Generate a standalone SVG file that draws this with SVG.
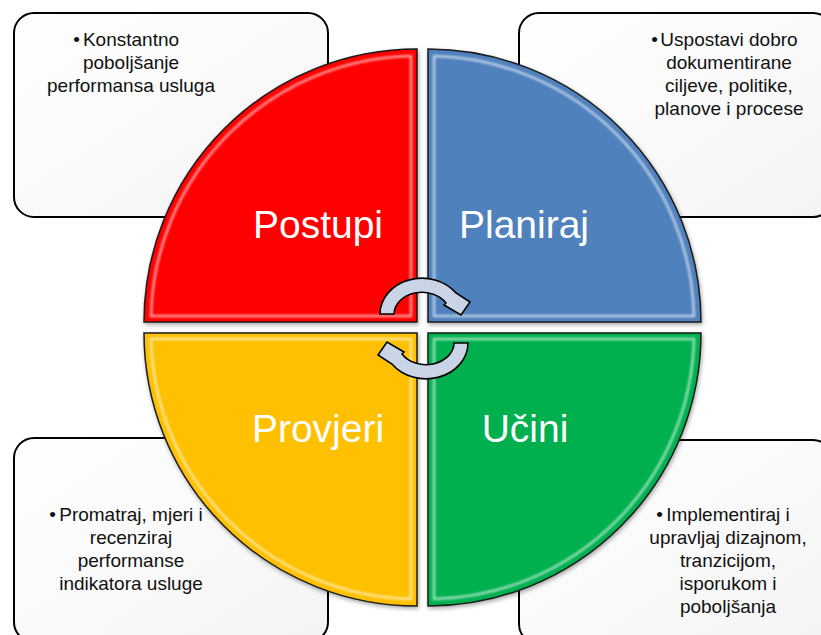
<svg xmlns="http://www.w3.org/2000/svg" width="821" height="635" viewBox="0 0 821 635">
<style>
.box{fill:url(#boxg);stroke:#000;stroke-width:2}
.bt{font-family:"Liberation Sans",Arial,sans-serif;font-size:19px;fill:#111;text-anchor:middle}
.bul{font-family:"Liberation Sans",Arial,sans-serif;font-size:19px;fill:#111;text-anchor:end}
.lbl{font-family:"Liberation Sans",Arial,sans-serif;font-size:39px;fill:#fff;text-anchor:middle}
.q{stroke:#1a1a1a;stroke-width:1.5;filter:url(#sh)}
.hl{fill:none;stroke:#fff;stroke-opacity:.6;stroke-width:2.5;filter:url(#bl)}
.arrow{fill:#C9D5E6;stroke:#000;stroke-width:1.6}
</style>
<defs>
<linearGradient id="boxg" x1="0" y1="0" x2="1" y2="1">
<stop offset="0" stop-color="#FFFFFF"/>
<stop offset="1" stop-color="#F4F4F4"/>
</linearGradient>
<filter id="sh" x="-10%" y="-10%" width="120%" height="120%">
<feGaussianBlur in="SourceAlpha" stdDeviation="2"/>
<feOffset dx="1" dy="2" result="o"/>
<feComponentTransfer><feFuncA type="linear" slope="0.35"/></feComponentTransfer>
<feMerge><feMergeNode/><feMergeNode in="SourceGraphic"/></feMerge>
</filter>
<filter id="bl" x="-5%" y="-5%" width="110%" height="110%">
<feGaussianBlur stdDeviation="0.9"/>
</filter>
<path id="arr" d="M380,314 A42 36 0 0 1 456,293 L470,302 L461,315 L444,305 L446,303 A28 22 0 0 0 394,314 Z"/>
</defs>

<g id="box-act">
<rect class="box" x="14" y="13" width="314" height="204" rx="20"/>
<text class="bul" x="80" y="46">•</text>
<text class="bt" x="131" y="46">Konstantno</text>
<text class="bt" x="131" y="69">poboljšanje</text>
<text class="bt" x="131" y="92">performansa usluga</text>
</g>
<g id="box-plan">
<rect class="box" x="519" y="13" width="314" height="204" rx="20"/>
<text class="bul" x="658" y="46">•</text>
<text class="bt" x="729" y="46">Uspostavi dobro</text>
<text class="bt" x="729" y="69">dokumentirane</text>
<text class="bt" x="729" y="92">ciljeve, politike,</text>
<text class="bt" x="729" y="115">planove i procese</text>
</g>
<g id="box-check">
<rect class="box" x="14" y="438" width="314" height="204" rx="20"/>
<text class="bul" x="56" y="521">•</text>
<text class="bt" x="131" y="521">Promatraj, mjeri i</text>
<text class="bt" x="131" y="544">recenziraj</text>
<text class="bt" x="131" y="567">performanse</text>
<text class="bt" x="131" y="590">indikatora usluge</text>
</g>
<g id="box-do">
<rect class="box" x="519" y="440" width="314" height="204" rx="20"/>
<text class="bul" x="663" y="521">•</text>
<text class="bt" x="728" y="521">Implementiraj i</text>
<text class="bt" x="728" y="544">upravljaj dizajnom,</text>
<text class="bt" x="728" y="567">tranzicijom,</text>
<text class="bt" x="728" y="590">isporukom i</text>
<text class="bt" x="728" y="613">poboljšanja</text>
</g>

<g id="q-postupi">
<path class="q" fill="#FF0000" d="M417,322 L144,322 A273 273 0 0 1 417,49 Z"/>
<path class="hl" d="M411,316 L151,316 A266 266 0 0 1 411,56 Z"/>
<text class="lbl" x="318" y="238">Postupi</text>
</g>
<g id="q-planiraj">
<path class="q" fill="#4F81BD" d="M428,322 L428,49 A273 273 0 0 1 701,322 Z"/>
<path class="hl" d="M434,316 L434,56 A266 266 0 0 1 694,316 Z"/>
<text class="lbl" x="524" y="238">Planiraj</text>
</g>
<g id="q-provjeri">
<path class="q" fill="#FFC000" d="M417,333 L417,606 A273 273 0 0 1 144,333 Z"/>
<path class="hl" d="M411,339 L411,599 A266 266 0 0 1 151,339 Z"/>
<text class="lbl" x="318" y="442">Provjeri</text>
</g>
<g id="q-ucini">
<path class="q" fill="#00B050" d="M428,333 L701,333 A273 273 0 0 1 428,606 Z"/>
<path class="hl" d="M434,339 L694,339 A266 266 0 0 1 434,599 Z"/>
<text class="lbl" x="525" y="442">Učini</text>
</g>

<g id="connectors">
<use href="#arr" class="arrow"/>
<use href="#arr" class="arrow" transform="rotate(180 424 328.5)"/>
</g>
</svg>
